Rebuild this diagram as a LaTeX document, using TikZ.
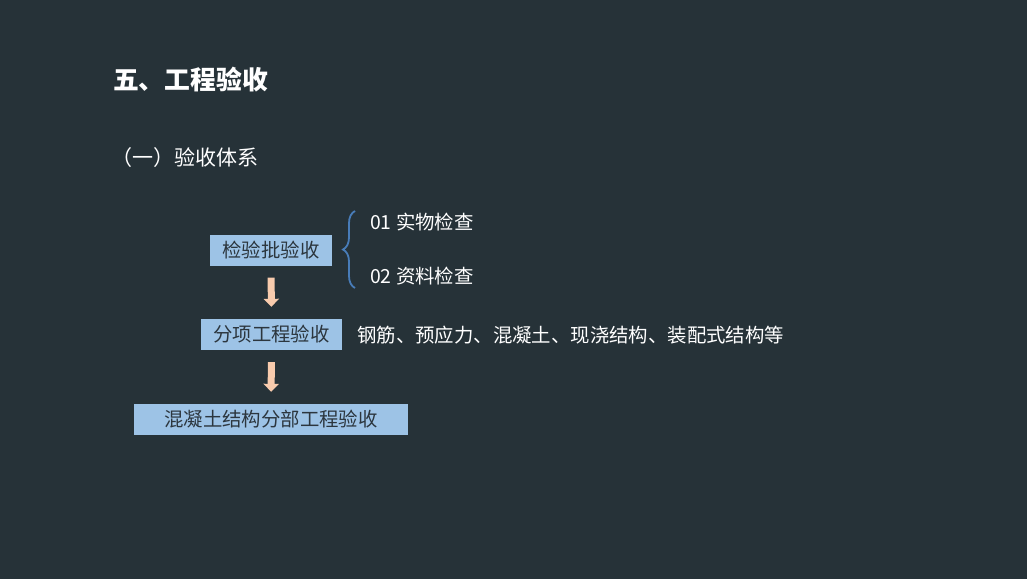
\documentclass[tikz,border=0pt]{standalone}
\usepackage{fontspec}
\setmainfont{Noto Sans CJK SC}
\usetikzlibrary{arrows.meta, decorations.pathreplacing}
\definecolor{BG}{RGB}{38,50,56}
\definecolor{LB}{RGB}{157,195,230}
\definecolor{PK}{RGB}{248,203,173}
\definecolor{BR}{RGB}{72,124,184}
\definecolor{DT}{RGB}{44,54,62}

\begin{document}
\begin{tikzpicture}[x=1pt, y=-1pt,
  stage/.style={fill=LB, text=DT, inner xsep=12.5pt, minimum height=31pt,
                font=\fontsize{19.4}{23}\selectfont},
  note/.style={text=white, anchor=west, inner sep=0pt,
               font=\fontsize{19.4}{23}\selectfont},
  flow/.style={draw=PK, line width=7pt, shorten <=12pt, shorten >=12pt,
               -{Triangle[width=15pt,length=8pt]}}
]
\fill[BG] (0,0) rectangle (1027,579);
\useasboundingbox (0,0) rectangle (1027,579);

\node[text=white, font=\fontsize{25.8}{30}\selectfont\bfseries] (title) at (190.5,80) {五、工程验收};
\node[text=white, font=\fontsize{21}{25}\selectfont] (sub) at (185,158) {（一）验收体系};

\node[stage] (pi)  at (271,250)   {检验批验收};
\node[stage] (fx)  at (271.5,334.5) {分项工程验收};
\node[stage, minimum width=274pt] (fb) at (271,419.5) {混凝土结构分部工程验收};

% items of the inspection lot
\node[note] (sw) at (370,222) {01 实物检查};
\node[note] (zl) at (370,276) {02 资料检查};
\node[note] (fxl) at (357,335) {钢筋、预应力、混凝土、现浇结构、装配式结构等};

\coordinate (bb) at (355,288);
\coordinate (bt) at (355,211);
\draw[BR, line width=1.8pt, decorate, decoration={brace, amplitude=12pt, aspect=0.5}] (bb) -- (bt);

% flow between stages
\draw[flow] (pi.south) -- (fx.north);
\draw[flow] (fx.south) -- (fb.north);
\end{tikzpicture}
\end{document}
